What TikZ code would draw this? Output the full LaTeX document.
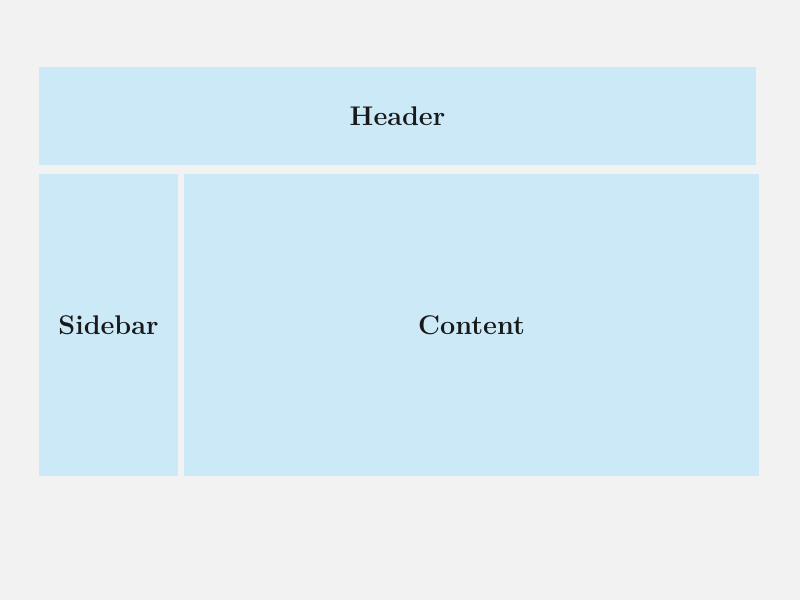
\documentclass[tikz,border=0pt]{standalone}
\usepackage{amssymb}
\definecolor{pagegray}{RGB}{242,242,242}
\definecolor{panelblue}{RGB}{204,233,248}
\definecolor{inkblack}{RGB}{25,25,25}
\tikzset{panel/.style={fill=panelblue, draw=none, inner sep=0pt, text=inkblack,
    font=\fontsize{27}{32}\selectfont\bfseries}}

\begin{document}
\begin{tikzpicture}[x=1pt,y=-1pt]
            \fill[pagegray] (0,0) rectangle (800,600);
            \useasboundingbox (0,0) rectangle (800,600);
            \node[panel, minimum width=717pt, minimum height=98pt] (header) at (397.5,116) {Header};
            \node[panel, minimum width=139pt, minimum height=302pt] (sidebar) at (108.5,325) {Sidebar};
            \node[panel, minimum width=575pt, minimum height=302pt] (content) at (471.5,325) {Content};
            \end{tikzpicture}
\end{document}
